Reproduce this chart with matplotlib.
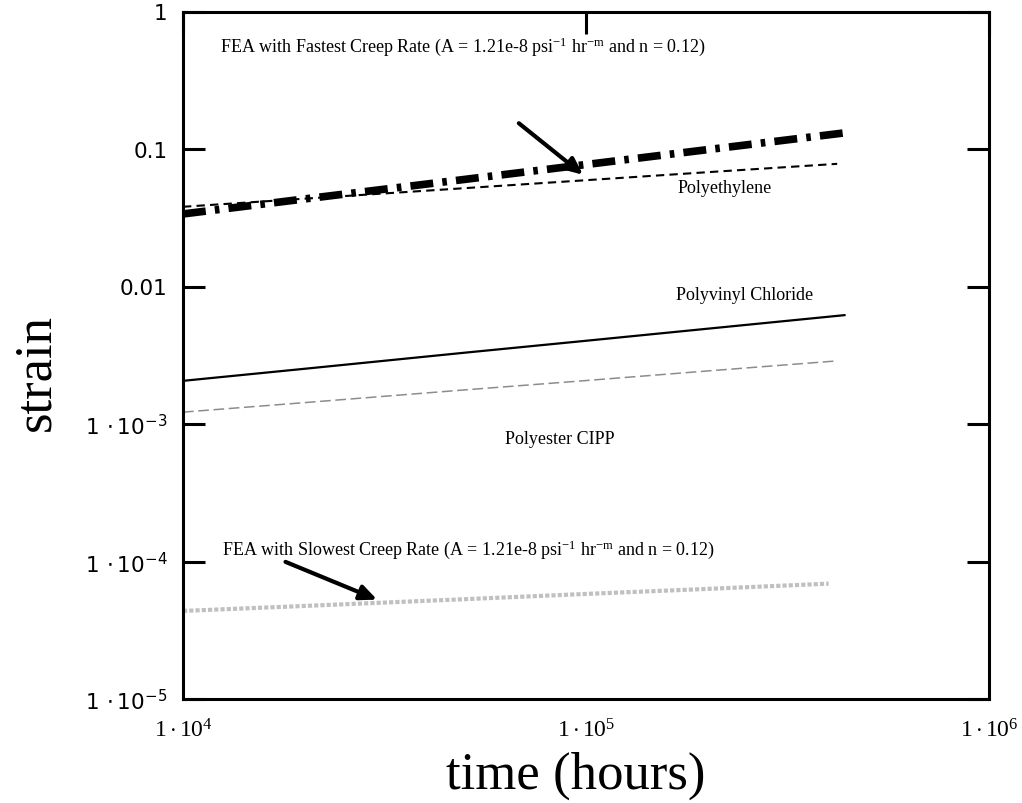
import matplotlib
matplotlib.use("Agg")
import matplotlib.pyplot as plt
from matplotlib.ticker import FixedLocator, FixedFormatter, NullLocator

plt.rcParams["mathtext.fontset"] = "custom"
plt.rcParams["mathtext.rm"] = "Liberation Serif"
plt.rcParams["mathtext.sf"] = "DejaVu Sans"
plt.rcParams["mathtext.it"] = "Liberation Serif:italic"

# time in hours (up to ~50 years)
time_fast = [1e4, 2e4, 5e4, 1e5, 2e5, 4.38e5]
strain_fea_fast = [0.0337, 0.0433, 0.0601, 0.0771, 0.0989, 0.131]

time_pe = [1e4, 2e4, 5e4, 1e5, 2e5, 4.2e5]
strain_pe = [0.0380, 0.0435, 0.0519, 0.0593, 0.0678, 0.0780]

time_pvc = [1e4, 2e4, 5e4, 1e5, 2e5, 4.38e5]
strain_pvc = [0.00206, 0.00252, 0.00330, 0.00403, 0.00493, 0.00619]

time_cipp = [1e4, 2e4, 5e4, 1e5, 2e5, 4.15e5]
strain_cipp = [0.00122, 0.00143, 0.00177, 0.00207, 0.00243, 0.00287]

time_slow = [1e4, 2e4, 5e4, 1e5, 2e5, 4.0e5]
strain_fea_slow = [4.37e-5, 4.75e-5, 5.32e-5, 5.81e-5, 6.32e-5, 6.90e-5]

x_ticks = [1e4, 1e5, 1e6]
x_tick_labels = [r"$\mathrm{1\cdot10^{4}}$", r"$\mathrm{1\cdot10^{5}}$", r"$\mathrm{1\cdot10^{6}}$"]
y_ticks = [1e-5, 1e-4, 1e-3, 1e-2, 1e-1, 1]
y_tick_labels = [r"$\mathsf{1\ \cdot 10^{-5}}$", r"$\mathsf{1\ \cdot 10^{-4}}$",
                 r"$\mathsf{1\ \cdot 10^{-3}}$", "0.01", "0.1", "1"]

fig = plt.figure(figsize=(10.22, 8.04), dpi=100)
ax = fig.add_axes([183 / 1022, 1 - 700 / 804, 806 / 1022, 687.5 / 804])
ax.set_xscale("log")
ax.set_yscale("log")
ax.set_xlim(1e4, 1e6)
ax.set_ylim(1e-5, 1)

ax.plot(time_slow, strain_fea_slow, color="#c0c0c0", lw=3.0, linestyle=(0, (1.0, 0.5)))
ax.plot(time_cipp, strain_cipp, color="#8c8c8c", lw=1.1, linestyle=(0, (7, 3)))
ax.plot(time_pvc, strain_pvc, color="black", lw=1.6)
ax.plot(time_pe, strain_pe, color="black", lw=1.5, linestyle=(0, (4, 2.5)))
ax.plot(time_fast, strain_fea_fast, color="black", lw=5.5, linestyle=(0, (3, 1.2, 0.6, 1.2)))

for s in ax.spines.values():
    s.set_linewidth(2.2)

ax.xaxis.set_major_locator(FixedLocator(x_ticks))
ax.xaxis.set_major_formatter(FixedFormatter(x_tick_labels))
ax.xaxis.set_minor_locator(NullLocator())
ax.yaxis.set_major_locator(FixedLocator(y_ticks))
ax.yaxis.set_major_formatter(FixedFormatter(y_tick_labels))
ax.yaxis.set_minor_locator(NullLocator())
ax.tick_params(axis="y", which="major", direction="in", length=16, width=2.2,
               left=True, right=True, labelsize=15.5, pad=11)
ax.tick_params(axis="x", which="major", direction="in", length=16, width=2.2,
               top=True, bottom=False, labelsize=17, pad=14)
for lbl in ax.get_xticklabels():
    lbl.set_fontfamily("Liberation Serif")

ax.set_xlabel("time (hours)", fontfamily="Liberation Serif", fontsize=38)
ax.set_ylabel("strain", fontfamily="Liberation Serif", fontsize=38)
ax.xaxis.set_label_coords(0.4876, -0.0756)
ax.yaxis.set_label_coords(-0.1525, 0.476)

serif = dict(fontfamily="Liberation Serif", fontsize=13, transform=ax.transAxes)
ax.text(0.046, 0.950,
        r"FEA with Fastest Creep Rate (A = 1.21e-8 psi$^{\mathrm{-1}}$ hr$^{\mathrm{-m}}$ and n = 0.12)",
        ha="left", va="center", **serif)
ax.text(0.048, 0.219,
        r"FEA with Slowest Creep Rate (A = 1.21e-8 psi$^{\mathrm{-1}}$ hr$^{\mathrm{-m}}$ and n = 0.12)",
        ha="left", va="center", **serif)
ax.text(0.672, 0.744, "Polyethylene", ha="center", va="center", **serif)
ax.text(0.697, 0.589, "Polyvinyl Chloride", ha="center", va="center", **serif)
ax.text(0.468, 0.379, "Polyester CIPP", ha="center", va="center", **serif)

arrow = dict(arrowstyle="-|>,head_length=1.0,head_width=0.45", color="black", lw=3)
ax.annotate("", xy=(0.499, 0.760), xytext=(0.414, 0.840),
            xycoords="axes fraction", textcoords="axes fraction", arrowprops=arrow)
ax.annotate("", xy=(0.244, 0.143), xytext=(0.124, 0.201),
            xycoords="axes fraction", textcoords="axes fraction", arrowprops=arrow)

fig.savefig("out.png", dpi=100)
